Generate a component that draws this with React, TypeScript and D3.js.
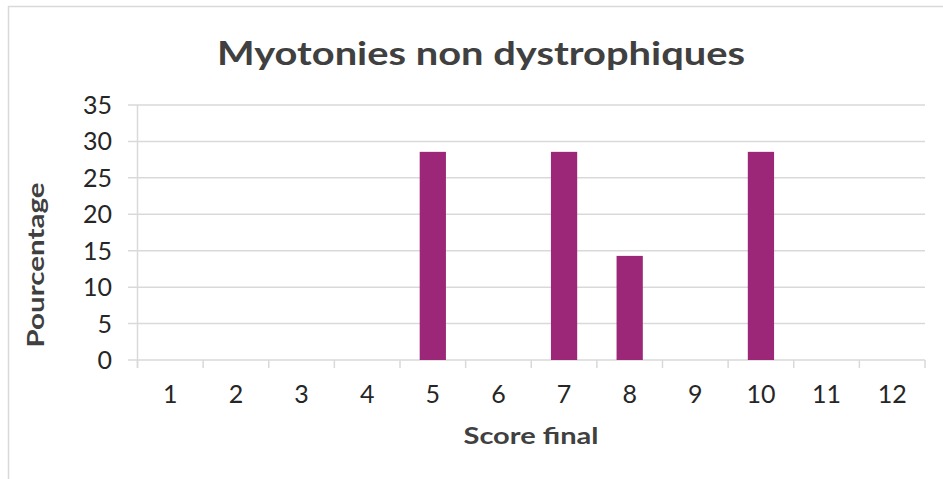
import React from "react";
import * as d3 from "d3";

const categories = ["1", "2", "3", "4", "5", "6", "7", "8", "9", "10", "11", "12"];
const values = [0, 0, 0, 0, 28.57, 0, 28.57, 14.29, 0, 28.57, 0, 0];
const yTicks = [0, 5, 10, 15, 20, 25, 30, 35];
const title = "Myotonies non dystrophiques";
const xTitle = "Score final";
const yTitle = "Pourcentage";

const W = 943;
const H = 479;
const left = 137.5;
const right = 925;
const top = 105;
const bottom = 360;
const grid = "#d9d9d9";
const textColor = "#404040";
const font = "Lato, 'DejaVu Sans', sans-serif";

export default function App() {
  const x = d3.scaleBand<string>().domain(categories).range([left, right]).paddingInner(0.6).paddingOuter(0.3);
  const y = d3.scaleLinear().domain([0, 35]).range([bottom, top]);
  const step = x.step();
  const boundaries = d3.range(categories.length + 1).map((i) => left + i * step);

  return (
    <svg width={W} height={H} style={{ position: "absolute", left: 0, top: 0, display: "block", background: "#fff" }}>
      <line x1={8} x2={W} y1={6.5} y2={6.5} stroke={grid} strokeWidth={1.5} />
      <line x1={8.5} x2={8.5} y1={6} y2={H} stroke={grid} strokeWidth={1.5} />
      <text x={481} y={65} textAnchor="middle" fontFamily={font} fontWeight="bold" fontSize={33} fill={textColor} textLength={528} lengthAdjust="spacingAndGlyphs">{title}</text>
      {yTicks.map((t) => (
        <g key={t}>
          <line x1={128} x2={right} y1={y(t)} y2={y(t)} stroke={grid} strokeWidth={1.5} />
          <text x={112} y={y(t)} dy="0.36em" textAnchor="end" fontFamily={font} fontSize={25} fill="#262626">{t}</text>
        </g>
      ))}
      <line x1={left} x2={left} y1={top} y2={bottom + 8} stroke={grid} strokeWidth={1.5} />
      {boundaries.map((b, i) => (
        <line key={i} x1={b} x2={b} y1={bottom} y2={bottom + 8} stroke={grid} strokeWidth={1.5} />
      ))}
      {categories.map((c, i) => (
        <g key={c}>
          {values[i] > 0 && (
            <rect x={x(c)} y={y(values[i])} width={x.bandwidth()} height={bottom - y(values[i])} fill="#9c2778" />
          )}
          <text x={(x(c) as number) + x.bandwidth() / 2} y={403} textAnchor="middle" fontFamily={font} fontSize={25} fill="#262626">{c}</text>
        </g>
      ))}
      <text x={531} y={444} textAnchor="middle" fontFamily={font} fontWeight="bold" fontSize={22} fill={textColor} textLength={135} lengthAdjust="spacingAndGlyphs">{xTitle}</text>
      <text transform={`translate(44,${265}) rotate(-90)`} textAnchor="middle" fontFamily={font} fontWeight="bold" fontSize={22} fill={textColor} textLength={165} lengthAdjust="spacingAndGlyphs">{yTitle}</text>
    </svg>
  );
}
